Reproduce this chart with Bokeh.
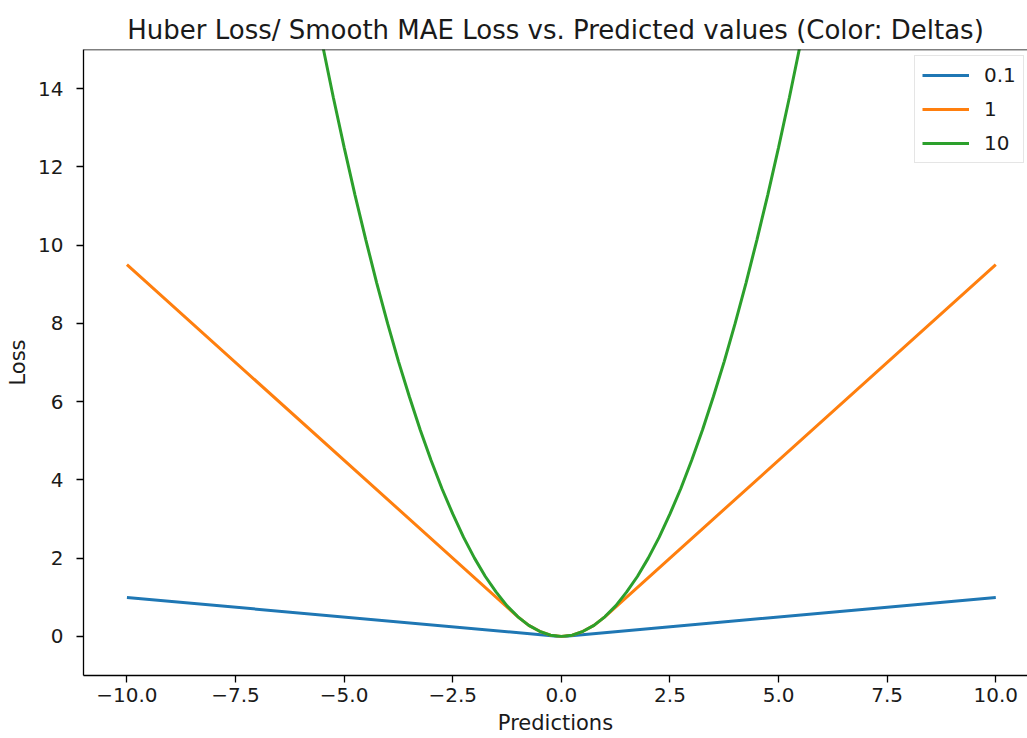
from bokeh.plotting import figure
from bokeh.models import FixedTicker, Span
from bokeh.embed import file_html
from bokeh.resources import INLINE

# ---- data ----
deltas = ["0.1", "1", "10"]
colors = ["#1f77b4", "#ff7f0e", "#2ca02c"]

blue_x = [-10.0, -0.1, 0.0, 0.1, 10.0]
blue_y = [0.995, 0.005, 0.0, 0.005, 0.995]

orange_x = [-10.0, -1.0, -0.75, -0.5, -0.25, 0.0, 0.25, 0.5, 0.75, 1.0, 10.0]
orange_y = [9.5, 0.5, 0.28, 0.13, 0.03, 0.0, 0.03, 0.13, 0.28, 0.5, 9.5]

green_x = [-5.5, -5.25, -5.0, -4.75, -4.5, -4.25, -4.0, -3.75, -3.5, -3.25, -3.0,
           -2.75, -2.5, -2.25, -2.0, -1.75, -1.5, -1.25, -1.0, -0.75, -0.5, -0.25,
           0.0, 0.25, 0.5, 0.75, 1.0, 1.25, 1.5, 1.75, 2.0, 2.25, 2.5, 2.75, 3.0,
           3.25, 3.5, 3.75, 4.0, 4.25, 4.5, 4.75, 5.0, 5.25, 5.5]
green_y = [15.13, 13.78, 12.5, 11.28, 10.13, 9.03, 8.0, 7.03, 6.13, 5.28, 4.5,
           3.78, 3.13, 2.53, 2.0, 1.53, 1.13, 0.78, 0.5, 0.28, 0.13, 0.03,
           0.0, 0.03, 0.13, 0.28, 0.5, 0.78, 1.13, 1.53, 2.0, 2.53, 3.13, 3.78, 4.5,
           5.28, 6.13, 7.03, 8.0, 9.03, 10.13, 11.28, 12.5, 13.78, 15.13]

x_ticks = [-10.0, -7.5, -5.0, -2.5, 0.0, 2.5, 5.0, 7.5, 10.0]
x_tick_labels = ["\u221210.0", "\u22127.5", "\u22125.0", "\u22122.5", "0.0", "2.5", "5.0", "7.5", "10.0"]
y_ticks = [0, 2, 4, 6, 8, 10, 12, 14]

X_MIN, X_MAX = -11.0, 10.73
Y_MIN, Y_MAX = -1.0, 15.0

FONT = "DejaVu Sans"
TXT = "#1a1a1a"

p = figure(width=1027, height=738, x_range=(X_MIN, X_MAX), y_range=(Y_MIN, Y_MAX),
           output_backend="svg", toolbar_location=None,
           title="Huber Loss/ Smooth MAE Loss vs. Predicted values (Color: Deltas)",
           min_border_left=83, min_border_right=0, min_border_top=49, min_border_bottom=63)

p.title.text_font = FONT
p.title.text_font_size = "26px"
p.title.text_font_style = "normal"
p.title.text_color = TXT
p.title.align = "center"

p.xgrid.visible = False
p.ygrid.visible = False
p.outline_line_color = None

p.xaxis.ticker = FixedTicker(ticks=x_ticks)
p.xaxis.major_label_overrides = {t: l for t, l in zip(x_ticks, x_tick_labels)}
p.yaxis.ticker = FixedTicker(ticks=y_ticks)

p.xaxis.axis_label = "Predictions"
p.yaxis.axis_label = "Loss"

for ax in (p.xaxis, p.yaxis):
    ax.axis_line_color = "black"
    ax.axis_line_width = 1.3
    ax.major_tick_line_color = "black"
    ax.major_tick_line_width = 1.3
    ax.major_tick_in = 0
    ax.major_tick_out = 7
    ax.minor_tick_line_color = None
    ax.major_label_text_font = FONT
    ax.major_label_text_font_size = "20px"
    ax.major_label_text_color = TXT
    ax.axis_label_text_font = FONT
    ax.axis_label_text_font_size = "21px"
    ax.axis_label_text_font_style = "normal"
    ax.axis_label_text_color = TXT

p.xaxis.major_label_standoff = 5
p.xaxis.axis_label_standoff = 6
p.yaxis.major_label_standoff = 13
p.yaxis.axis_label_standoff = 5

# top spine
p.add_layout(Span(location=Y_MAX, dimension="width", line_color="black", line_width=1.3))

p.line(blue_x, blue_y, line_color=colors[0], line_width=3, legend_label=deltas[0])
p.line(orange_x, orange_y, line_color=colors[1], line_width=3, legend_label=deltas[1])
p.line(green_x, green_y, line_color=colors[2], line_width=3, legend_label=deltas[2])

lg = p.legend[0]
lg.location = (831, 512)
lg.margin = 0
lg.padding = 7
lg.spacing = 10
lg.glyph_width = 47
lg.glyph_height = 20
lg.label_height = 20
lg.label_standoff = 15
lg.label_text_font = FONT
lg.label_text_font_size = "20px"
lg.label_text_color = TXT
lg.border_line_color = "#cccccc"
lg.border_line_width = 1
lg.background_fill_alpha = 0.8

open("out.html", "w").write(file_html(p, INLINE))
